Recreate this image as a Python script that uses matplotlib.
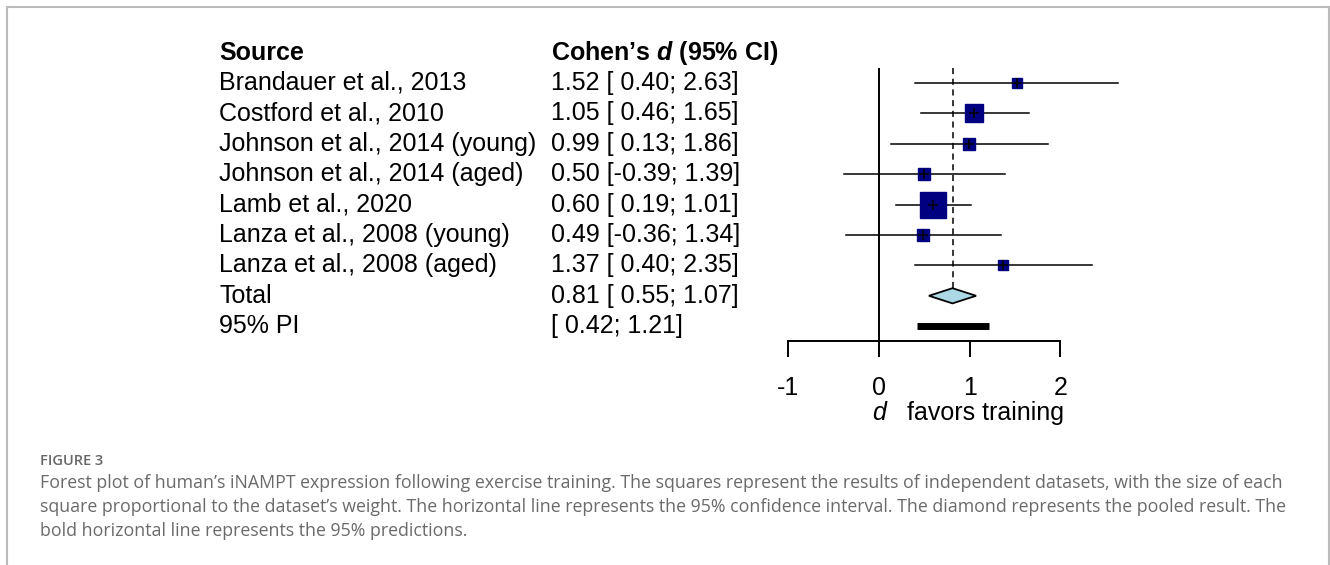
import matplotlib.pyplot as plt
import matplotlib.transforms as mtransforms
from matplotlib.lines import Line2D
from matplotlib.patches import Polygon

plt.rcParams['font.family'] = ['Liberation Sans', 'DejaVu Sans']
plt.rcParams['mathtext.fontset'] = 'custom'
plt.rcParams['mathtext.bfit'] = 'Liberation Sans:italic:bold'
plt.rcParams['mathtext.it'] = 'Liberation Sans:italic'

# study data
studies = ['Brandauer et al., 2013', 'Costford et al., 2010',
           'Johnson et al., 2014 (young)', 'Johnson et al., 2014 (aged)',
           'Lamb et al., 2020', 'Lanza et al., 2008 (young)',
           'Lanza et al., 2008 (aged)']
est = [1.52, 1.05, 0.99, 0.50, 0.60, 0.49, 1.37]
lower = [0.40, 0.46, 0.13, -0.39, 0.19, -0.36, 0.40]
upper = [2.63, 1.65, 1.86, 1.39, 1.01, 1.34, 2.35]
weights = [5.5, 19.3, 9.1, 8.6, 40.7, 9.5, 7.2]  # percent

total_est, total_lo, total_hi = 0.81, 0.55, 1.07
pi_lo, pi_hi = 0.42, 1.21
xticks = [-1, 0, 1, 2]

caption_head = 'FIGURE 3'
caption = ["Forest plot of human\u2019s iNAMPT expression following exercise training. "
           "The squares represent the results of independent datasets, with the size of each",
           "square proportional to the dataset\u2019s weight. The horizontal line represents the 95% "
           "confidence interval. The diamond represents the pooled result. The",
           "bold horizontal line represents the 95% predictions."]

W, H = 1330, 565
fig = plt.figure(figsize=(W / 100, H / 100), dpi=100)

# forest axes: x unit = 90.67 px, rows 30.4 px apart
ax = fig.add_axes([761.1 / W, 1 - 341 / H, 381 / W, 273 / H])
ax.set_xlim(-1.3, 2.9)
ax.set_ylim(8.487, -0.493)
for s in ['top', 'right', 'left']:
    ax.spines[s].set_visible(False)
ax.spines['bottom'].set_bounds(-1, 2)
ax.spines['bottom'].set_linewidth(1.4)
ax.set_yticks([])
ax.set_xticks(xticks)
ax.set_xticklabels([str(t) for t in xticks])
ax.tick_params(axis='x', direction='out', length=11.5, width=1.4,
               labelsize=18, pad=14)

ax.axvline(0, color='black', lw=1.4)
ax.vlines(total_est, -0.493, 7 - 0.25, colors='black', linestyles=(0, (4, 3)), lw=1.1)

for i in range(len(studies)):
    ax.plot([lower[i], upper[i]], [i, i], color='black', lw=1.1, zorder=2)
    side = 4.075 * weights[i] ** 0.5
    ax.plot(est[i], i, marker='s', ms=side * 0.72, color='#000080',
            mec='#000080', zorder=3)
    ax.plot(est[i], i, marker='+', ms=7, mew=1.1, color='black', zorder=4)

diamond = Polygon([[total_lo, 7], [total_est, 6.75], [total_hi, 7], [total_est, 7.25]],
                  closed=True, facecolor='#ADD8E6', edgecolor='black', lw=1.3, zorder=3)
ax.add_patch(diamond)
ax.plot([pi_lo, pi_hi], [8, 8], color='black', lw=5, solid_capstyle='butt')

# x label
tr = mtransforms.blended_transform_factory(ax.transData, fig.transFigure)
ax.text(0, 1 - 413 / H, 'd', style='italic', fontsize=18, ha='center', va='center',
        transform=tr)
ax.text(0.31, 1 - 413 / H, 'favors training', fontsize=18, ha='left', va='center',
        transform=tr)

# text columns
tt = mtransforms.blended_transform_factory(fig.transFigure, ax.transData)
x1, x2 = 219 / W, 551 / W
ax.text(x1, -1, 'Source', fontsize=18, fontweight='bold', va='center', transform=tt)
ax.text(x2, -1, 'Cohen\u2019s $\\mathbfit{d}$ (95% CI)', fontsize=18, fontweight='bold',
        va='center', transform=tt)
for i, name in enumerate(studies):
    ax.text(x1, i, name, fontsize=18, va='center', transform=tt)
    ax.text(x2, i, '%.2f [%5.2f; %.2f]' % (est[i], lower[i], upper[i]),
            fontsize=18, va='center', transform=tt)
ax.text(x1, 7, 'Total', fontsize=18, va='center', transform=tt)
ax.text(x2, 7, '%.2f [%5.2f; %.2f]' % (total_est, total_lo, total_hi),
        fontsize=18, va='center', transform=tt)
ax.text(x1, 8, '95% PI', fontsize=18, va='center', transform=tt)
ax.text(x2, 8, '[%5.2f; %.2f]' % (pi_lo, pi_hi), fontsize=18, va='center', transform=tt)

# caption
fig.text(40 / W, 1 - 461 / H, caption_head, fontsize=10.5, color='#666666',
         family='Open Sans', fontweight='semibold', va='center')
for k, line in enumerate(caption):
    fig.text(40 / W, 1 - (483 + 24 * k) / H, line, fontsize=12.8, color='#6a6a6a',
             family='Open Sans', va='center')

# frame
for xs, ys in [([7, 1329], [7, 7]), ([7, 7], [7, H]), ([1329, 1329], [7, H])]:
    fig.add_artist(Line2D([x / W for x in xs], [1 - y / H for y in ys],
                          color='#bbbbbb', lw=1.5))

fig.savefig('out.png', dpi=100)
